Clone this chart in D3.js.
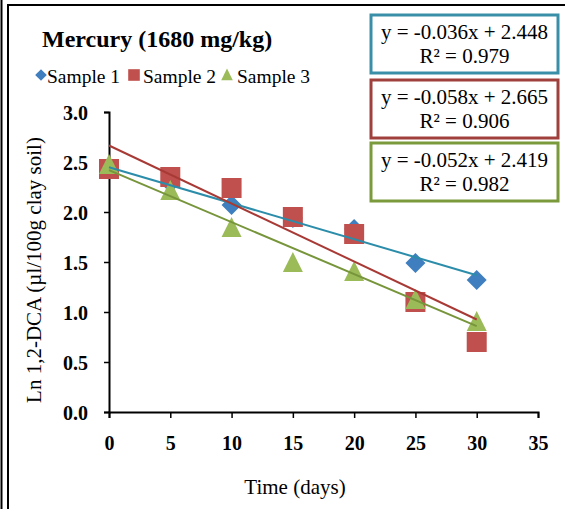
<!DOCTYPE html>
<html>
<head>
<meta charset="utf-8">
<script src="https://cdn.jsdelivr.net/npm/d3@7"></script>
<style>
  body { margin: 0; background: #fff; }
  text { font-family: "Liberation Serif", "Times New Roman", serif; }
</style>
</head>
<body>
<div id="chart"></div>
<script>
// data
const days = [0, 5, 10, 15, 20, 25, 30];
const sample1 = [2.43, 2.29, 2.07, 1.94, 1.83, 1.49, 1.32];
const sample2 = [2.43, 2.35, 2.24, 1.95, 1.78, 1.10, 0.70];
const sample3 = [2.47, 2.21, 1.84, 1.49, 1.40, 1.12, 0.90];
const seriesNames = ["Sample 1", "Sample 2", "Sample 3"];
const slopes = [-0.036, -0.058, -0.052];
const intercepts = [2.448, 2.665, 2.419];
const rSquared = ["0.979", "0.906", "0.982"];
const xTicks = [0, 5, 10, 15, 20, 25, 30, 35];
const yTicks = [0, 0.5, 1, 1.5, 2, 2.5, 3];

const W = 565, H = 509;
const svg = d3.select("#chart").append("svg")
  .attr("width", W).attr("height", H);

const x = d3.scaleLinear().domain([0, 35]).range([109, 538]);
const y = d3.scaleLinear().domain([0, 3]).range([412, 112]);

const markerCol = ["#3F7FBF", "#C0504D", "#9BBB59"];
const lineCol = ["#2C8DAA", "#A83A36", "#77953A"];
const boxCol = ["#3A8FA8", "#A0403C", "#7A9A3C"];

// frame
svg.append("line").attr("x1", 1.5).attr("x2", 1.5).attr("y1", 0).attr("y2", H)
  .attr("stroke", "#000").attr("stroke-width", 2);
svg.append("line").attr("x1", 8).attr("x2", 8).attr("y1", 5).attr("y2", H)
  .attr("stroke", "#000").attr("stroke-width", 2);
svg.append("line").attr("x1", 7).attr("x2", W).attr("y1", 5).attr("y2", 5)
  .attr("stroke", "#000").attr("stroke-width", 2);

// axes
const xAxis = svg.append("g").attr("transform", "translate(0,412)")
  .call(d3.axisBottom(x).tickValues(xTicks).tickSize(6).tickFormat(d3.format("d")));
const yAxis = svg.append("g").attr("transform", "translate(109,0)")
  .call(d3.axisLeft(y).tickValues(yTicks).tickSize(5).tickFormat(d3.format(".1f")));
[xAxis, yAxis].forEach(a => {
  a.select(".domain").attr("stroke", "#000").attr("stroke-width", 2);
  a.selectAll(".tick line").attr("stroke", "#000").attr("stroke-width", 1.5);
  a.selectAll(".tick text")
    .attr("font-family", "Liberation Serif, Times New Roman, serif")
    .attr("font-size", 20).attr("font-weight", "bold").attr("fill", "#000");
});
xAxis.selectAll(".tick text").attr("y", 24).attr("dy", "0.71em");
yAxis.selectAll(".tick text").attr("x", -21).attr("dy", "0.36em");

// axis titles
svg.append("text").attr("x", 295).attr("y", 494).attr("text-anchor", "middle")
  .attr("font-size", 21).text("Time (days)");
svg.append("text").attr("transform", "translate(41,270) rotate(-90)")
  .attr("text-anchor", "middle").attr("font-size", 21)
  .text("Ln 1,2-DCA (µl/100g clay soil)");

// title
svg.append("text").attr("x", 42).attr("y", 47).attr("font-size", 24)
  .attr("font-weight", "bold").text("Mercury (1680 mg/kg)");

// marker shapes
function marker(sel, i, scale) {
  const h = 10 * (scale || 1);
  if (i === 0) {
    sel.append("path").attr("d", `M0,${-h}L${h},0L0,${h}L${-h},0Z`).attr("fill", markerCol[0]);
  } else if (i === 1) {
    sel.append("rect").attr("x", -h).attr("y", -h).attr("width", 2 * h).attr("height", 2 * h)
      .attr("fill", markerCol[1]);
  } else {
    sel.append("path").attr("d", `M0,${-h * 1.1}L${h},${h * 0.9}L${-h},${h * 0.9}Z`)
      .attr("fill", markerCol[2]);
  }
}

const allSeries = [sample1, sample2, sample3];
allSeries.forEach((vals, i) => {
  const pts = days.map((d, k) => ({ d: d, v: vals[k] }));
  svg.append("g").selectAll("g").data(pts).join("g")
    .attr("transform", p => `translate(${x(p.d)},${y(p.v)})`)
    .each(function () { marker(d3.select(this), i); });
});

// trend lines
const line = d3.line().x(p => x(p[0])).y(p => y(p[1]));
slopes.forEach((m, i) => {
  const ends = [0, 30].map(t => [t, m * t + intercepts[i]]);
  svg.append("path").attr("d", line(ends)).attr("fill", "none")
    .attr("stroke", lineCol[i]).attr("stroke-width", 2);
});

// legend
const legX = [41, 134, 227];
const legText = [47, 143, 237];
seriesNames.forEach((n, i) => {
  const g = svg.append("g").attr("transform", `translate(${legX[i]},75)`);
  marker(g, i, 0.58);
  svg.append("text").attr("x", legText[i]).attr("y", 83).attr("font-size", 19.5).text(n);
});

// equation boxes
const fmt = v => d3.format(".3f")(v).replace("\u2212", "-");
const boxTop = [15, 80, 143];
slopes.forEach((m, i) => {
  const g = svg.append("g").attr("transform", `translate(371,${boxTop[i]})`);
  g.append("rect").attr("x", 0).attr("y", 0).attr("width", 187).attr("height", 58)
    .attr("fill", "#fff").attr("stroke", boxCol[i]).attr("stroke-width", 3);
  g.append("text").attr("x", 93.5).attr("y", 24).attr("text-anchor", "middle")
    .attr("font-size", 21).text(`y = ${fmt(m)}x + ${fmt(intercepts[i])}`);
  g.append("text").attr("x", 93.5).attr("y", 48).attr("text-anchor", "middle")
    .attr("font-size", 21).text(`R² = ${rSquared[i]}`);
});
</script>
</body>
</html>
